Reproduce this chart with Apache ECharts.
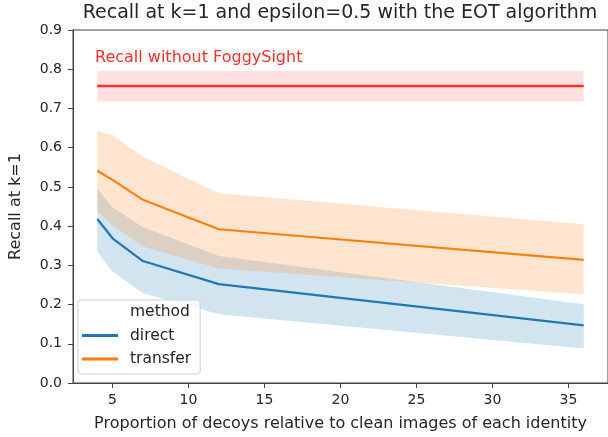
<!DOCTYPE html>
<html>
<head>
<meta charset="utf-8">
<script src="https://cdn.jsdelivr.net/npm/echarts@6/dist/echarts.min.js"></script>
<style>
  html, body { margin: 0; padding: 0; background: #fff; }
  #chart { width: 608px; height: 437px; }
</style>
</head>
<body>
<div id="chart"></div>
<script>
// proportion of decoys (x)
const xVals = [4, 5, 7, 12, 36];
// direct method: mean and confidence band
const directMean = [0.418, 0.369, 0.311, 0.252, 0.147];
const directLow = [0.335, 0.284, 0.229, 0.175, 0.088];
const directHigh = [0.495, 0.448, 0.397, 0.324, 0.201];
// transfer method
const transferMean = [0.541, 0.518, 0.467, 0.392, 0.314];
const transferLow = [0.437, 0.403, 0.348, 0.292, 0.226];
const transferHigh = [0.642, 0.632, 0.577, 0.484, 0.405];
// recall without FoggySight
const baseX = [4, 36];
const baseMean = [0.757, 0.757];
const baseLow = [0.718, 0.718];
const baseHigh = [0.796, 0.796];
// tick labels
const xTicks = [5, 10, 15, 20, 25, 30, 35];

const FONT = "DejaVu Sans";
const TXT = "#262626";
const BLUE = "#1f77b4";
const ORANGE = "#ff7f0e";
const RED = "#ff3030";

function pairs(xs, ys) {
  return xs.map((x, i) => [x, ys[i]]);
}

// confidence band as one polygon, drawn through the axes with api.coord
function band(name, xs, lo, hi, fill) {
  const rows = xs.map((x, i) => [x, lo[i], hi[i]]);
  return {
    name: name, type: "custom", silent: true, z: 1,
    data: rows,
    encode: { x: 0, y: [1, 2] },
    renderItem: function (params, api) {
      if (params.dataIndex !== 0) return null;
      const top = rows.map(r => api.coord([r[0], r[2]]));
      const bot = rows.map(r => api.coord([r[0], r[1]])).reverse();
      return {
        type: "polygon",
        shape: { points: top.concat(bot) },
        style: { fill: fill }
      };
    }
  };
}

const chart = echarts.init(document.getElementById("chart"), null, { renderer: "canvas" });

const option = {
  animation: false,
  textStyle: { fontFamily: FONT },
  title: {
    text: "Recall at k=1 and epsilon=0.5 with the EOT algorithm",
    left: 340, top: 4, padding: 0, textAlign: "center",
    textStyle: { fontFamily: FONT, fontSize: 19, fontWeight: "normal", color: TXT }
  },
  grid: {
    left: 70, top: 30, width: 541, height: 353,
    show: true, borderColor: "#444", borderWidth: 1, backgroundColor: "transparent"
  },
  legend: {
    left: 78, top: 300, orient: "vertical",
    padding: [4, 9, 7, 4],
    backgroundColor: "rgba(255,255,255,0.8)",
    borderColor: "#d0d0d0", borderWidth: 1, borderRadius: 3,
    itemWidth: 36, itemHeight: 3, itemGap: 7.5,
    selectedMode: false,
    textStyle: { fontFamily: FONT, fontSize: 15.5, color: TXT, lineHeight: 16, padding: [0, 0, 0, 7] },
    data: [
      { name: "method", icon: "none" },
      { name: "direct", icon: "rect" },
      { name: "transfer", icon: "rect" }
    ]
  },
  xAxis: {
    type: "value", min: 2.4, max: 37.6,
    axisLine: { show: true, lineStyle: { color: "#444", width: 1 } },
    axisTick: { show: true, length: 5, lineStyle: { color: "#444" }, customValues: xTicks },
    axisLabel: { customValues: xTicks, margin: 10, fontFamily: FONT, fontSize: 14, color: TXT },
    splitLine: { show: false },
    name: "Proportion of decoys relative to clean images of each identity",
    nameLocation: "middle", nameGap: 33,
    nameTextStyle: { fontFamily: FONT, fontSize: 16, color: TXT }
  },
  yAxis: {
    type: "value", min: 0, max: 0.9, interval: 0.1,
    axisLine: { show: true, lineStyle: { color: "#444", width: 1 } },
    axisTick: { show: true, length: 5, lineStyle: { color: "#444" } },
    axisLabel: { margin: 11, fontFamily: FONT, fontSize: 14, color: TXT, formatter: v => v.toFixed(1) },
    splitLine: { show: false },
    name: "Recall at k=1",
    nameLocation: "middle", nameGap: 49,
    nameTextStyle: { fontFamily: FONT, fontSize: 16, color: TXT }
  },
  graphic: [
    {
      type: "text", left: 95, top: 50,
      style: { text: "Recall without FoggySight", fill: RED, font: "16px 'DejaVu Sans'" }
    }
  ],
  series: [
    band("baseBand", baseX, baseLow, baseHigh, "rgba(255,0,0,0.12)"),
    band("directBand", xVals, directLow, directHigh, "rgba(31,119,180,0.2)"),
    band("transferBand", xVals, transferLow, transferHigh, "rgba(255,127,14,0.2)"),
    { name: "method", type: "line", data: [] },
    {
      name: "direct", type: "line", data: pairs(xVals, directMean), color: BLUE,
      symbol: "none", lineStyle: { color: BLUE, width: 2.2 }, z: 3
    },
    {
      name: "transfer", type: "line", data: pairs(xVals, transferMean), color: ORANGE,
      symbol: "none", lineStyle: { color: ORANGE, width: 2.2 }, z: 3
    },
    {
      name: "baseline", type: "line", data: pairs(baseX, baseMean),
      symbol: "none", lineStyle: { color: RED, width: 2.5 }, z: 3
    }
  ]
};

chart.setOption(option);
</script>
</body>
</html>
